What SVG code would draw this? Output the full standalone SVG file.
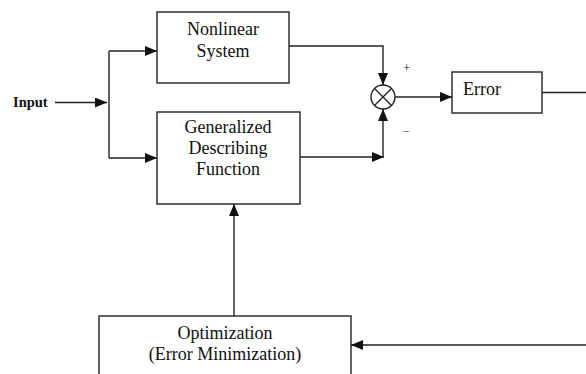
<svg xmlns="http://www.w3.org/2000/svg" width="586" height="374" viewBox="0 0 586 374">
<style>
.box{fill:#fff;stroke:#222;stroke-width:1.4}
.ln{fill:none;stroke:#222;stroke-width:1.4}
.t{font-family:"Liberation Serif","Times New Roman",serif;font-size:18px;fill:#111}
.c{text-anchor:middle}
</style>
<defs>
<marker id="ah" markerUnits="userSpaceOnUse" markerWidth="12" markerHeight="10" refX="12" refY="5" orient="auto">
<path d="M0,0 L12,5 L0,10 z" fill="#111"/>
</marker>
</defs>
<rect width="586" height="374" fill="#fff"/>
<g id="input">
<text x="13" y="107" style="font-family:'Liberation Serif','Times New Roman',serif;font-size:14.5px;font-weight:bold;fill:#111">Input</text>
</g>
<g id="nonlinear">
<rect class="box" x="157" y="12" width="132" height="71"/>
<text class="t c" x="223" y="35">Nonlinear</text>
<text class="t c" x="223" y="57">System</text>
</g>
<g id="gdf">
<rect class="box" x="157" y="112" width="143" height="92"/>
<text class="t c" x="228" y="133">Generalized</text>
<text class="t c" x="228" y="154">Describing</text>
<text class="t c" x="228" y="175">Function</text>
</g>
<g id="sum">
<circle class="ln" cx="383" cy="97" r="12"/>
<path class="ln" d="M374.5,88.5 L391.5,105.5 M391.5,88.5 L374.5,105.5"/>
<text x="403" y="72" style="font-family:'Liberation Serif','Times New Roman',serif;font-size:13px;fill:#111">+</text>
<text x="402" y="136" style="font-family:'Liberation Serif','Times New Roman',serif;font-size:13px;fill:#555">−</text>
</g>
<g id="error">
<rect class="box" x="452" y="72" width="90" height="41"/>
<text class="t" x="463" y="95">Error</text>
</g>
<g id="optimization">
<rect class="box" x="99" y="316" width="252" height="70"/>
<text class="t c" x="225" y="339">Optimization</text>
<text class="t c" x="225" y="360">(Error Minimization)</text>
</g>
<g id="connectors">
<path class="ln" d="M55,102.5 L107,102.5" marker-end="url(#ah)"/>
<path class="ln" d="M109,51 L109,158"/>
<path class="ln" d="M109,51 L157,51" marker-end="url(#ah)"/>
<path class="ln" d="M109,158 L157,158" marker-end="url(#ah)"/>
<path class="ln" d="M289,46 L383,46 L383,85" marker-end="url(#ah)"/>
<path class="ln" d="M300,157 L384,157" marker-end="url(#ah)"/>
<path class="ln" d="M383,157 L383,109" marker-end="url(#ah)"/>
<path class="ln" d="M395,97 L452,97" marker-end="url(#ah)"/>
<path class="ln" d="M542,92.5 L586,92.5"/>
<path class="ln" d="M586,345 L351,345" marker-end="url(#ah)"/>
<path class="ln" d="M234,316 L234,204" marker-end="url(#ah)"/>
</g>
</svg>
